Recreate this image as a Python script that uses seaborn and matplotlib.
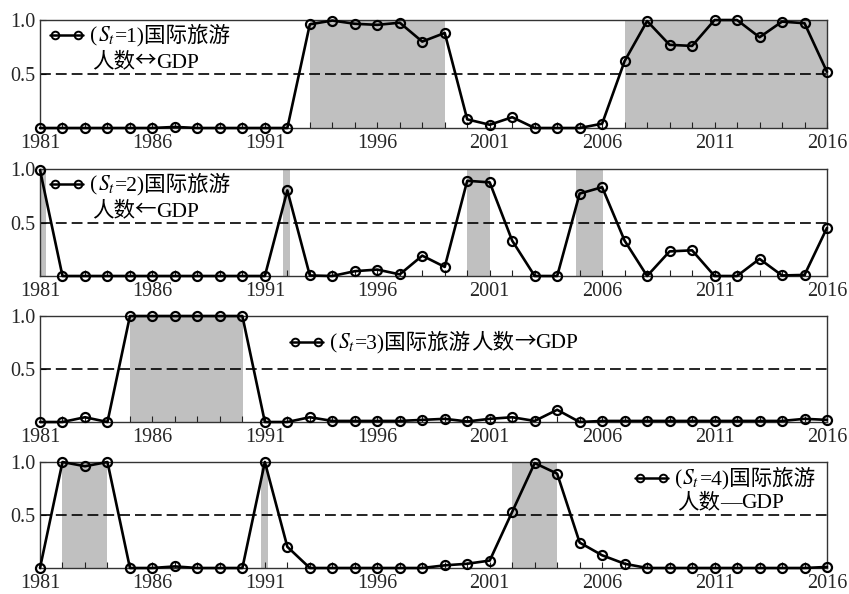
import matplotlib
matplotlib.use("Agg")
import matplotlib.pyplot as plt
import numpy as np
import pandas as pd
import seaborn as sns
from matplotlib.offsetbox import AnchoredOffsetbox, HPacker, VPacker, TextArea, DrawingArea
from matplotlib.lines import Line2D
from matplotlib.ticker import FixedLocator, MultipleLocator

# ---------------- data ----------------
years = list(range(1981, 2017))

prob_s1 = [0, 0, 0, 0, 0, 0, 0.01, 0, 0, 0, 0, 0,
           0.96, 0.995, 0.965, 0.955, 0.975, 0.80, 0.88,
           0.08, 0.03, 0.10, 0, 0, 0, 0.04,
           0.62, 0.99, 0.77, 0.76, 1.0, 1.0, 0.84, 0.985, 0.97, 0.52]

prob_s2 = [0.99, 0, 0, 0, 0, 0, 0, 0, 0, 0, 0,
           0.80, 0.005, 0, 0.045, 0.06, 0.015, 0.19, 0.085,
           0.89, 0.875, 0.33, 0, 0, 0.77, 0.83, 0.33, 0,
           0.23, 0.24, 0, 0, 0.16, 0.005, 0.01, 0.45]

prob_s3 = [0, 0, 0.045, 0, 1.0, 1.0, 1.0, 1.0, 1.0, 1.0,
           0, 0, 0.045, 0.01, 0.01, 0.01, 0.01, 0.02, 0.03, 0.005,
           0.03, 0.045, 0.01, 0.115, 0,
           0.01, 0.01, 0.01, 0.01, 0.01, 0.01, 0.01, 0.01, 0.01, 0.03, 0.02]

prob_s4 = [0, 1.0, 0.96, 1.0, 0, 0, 0.015, 0, 0, 0, 1.0, 0.2,
           0, 0, 0, 0, 0, 0, 0.025, 0.04, 0.07, 0.53, 0.99, 0.89,
           0.24, 0.12, 0.04, 0, 0, 0, 0, 0, 0, 0, 0, 0.01]

shade_s1 = [(1993, 1999), (2007, 2016)]
shade_s2 = [(1981, 1981.25), (1991.8, 1992.1), (2000, 2001), (2004.85, 2006.05)]
shade_s3 = [(1985, 1990.05)]
shade_s4 = [(1982, 1984), (1990.85, 1991.12), (2002, 2004)]

state_ids = ["1", "2", "3", "4"]
label_subject = "国际旅游"
label_count = "人数"
label_arrows = ["↔", "←", "→", "—"]
label_target = "GDP"
legend_two_lines = [True, True, False, True]

xtick_years = [1981, 1986, 1991, 1996, 2001, 2006, 2011, 2016]
ytick_vals = [0.5, 1.0]
ytick_labels = ["0.5", "1.0"]
threshold = 0.5

# ---------------- style ----------------
sns.set_style("ticks")
plt.rcParams["font.family"] = ["Liberation Serif", "Noto Sans CJK SC"]
plt.rcParams["mathtext.fontset"] = "stix"
FONT = ["Liberation Serif", "Noto Sans CJK SC"]
CJK = ["Noto Sans CJK SC", "Liberation Serif"]
arrow_fonts = [CJK, CJK, CJK, FONT]

W, H = 849, 594
fig = plt.figure(figsize=(W / 100, H / 100), dpi=100)

panel_px = [(40, 20, 827, 128), (40, 169, 827, 276), (40, 316, 827, 422), (40, 462, 827, 568)]
series = [prob_s1, prob_s2, prob_s3, prob_s4]
shades = [shade_s1, shade_s2, shade_s3, shade_s4]
legend_pos = [((0.0127, 0.965), "upper left"),
              ((0.0127, 0.965), "upper left"),
              ((0.3177, 0.755), "center left"),
              ((0.756, 0.955), "upper left")]

LEG_FS = 15.5


def make_handle():
    da = DrawingArea(24, 12, 0, 0)
    da.add_artist(Line2D([0, 24], [6, 6], color="k", lw=1.8))
    da.add_artist(Line2D([3.6, 20.4], [6, 6], ls="none", marker="o", markersize=5.5,
                         markerfacecolor="none", markeredgecolor="k", markeredgewidth=1.4))
    return da


for i, (l, t, r, b) in enumerate(panel_px):
    ax = fig.add_axes([l / W, 1 - b / H, (r - l) / W, (b - t) / H])
    for (a, e) in shades[i]:
        ax.axvspan(a, e, color="#c0c0c0", lw=0, zorder=0)
    ax.axhline(threshold, color="k", lw=1.2, ls=(0, (6.5, 3)), zorder=1)
    df = pd.DataFrame({"year": years, "prob": series[i]})
    sns.lineplot(data=df, x="year", y="prob", ax=ax, color="k", linewidth=1.9,
                 marker="o", markersize=6.5, markerfacecolor="none",
                 markeredgecolor="k", markeredgewidth=1.6, clip_on=False, zorder=3)
    ax.set_xlim(1981, 2016)
    ax.set_ylim(0, 1)
    ax.set_xlabel("")
    ax.set_ylabel("")
    ax.xaxis.set_major_locator(FixedLocator(xtick_years))
    ax.xaxis.set_minor_locator(MultipleLocator(1))
    ax.set_xticklabels([str(y) for y in xtick_years])
    ax.yaxis.set_major_locator(FixedLocator(ytick_vals))
    ax.set_yticklabels(ytick_labels)
    ax.tick_params(axis="both", which="both", direction="in", length=4, width=0.8,
                   color="#222222", labelsize=14.5, pad=3)
    ax.tick_params(axis="x", which="major", pad=4)
    for sp in ax.spines.values():
        sp.set_visible(True)
        sp.set_color("#333333")
        sp.set_linewidth(1.0)
    for lab in ax.get_xticklabels() + ax.get_yticklabels():
        lab.set_family(FONT)

    # legend built from offset boxes (mixed fonts + mathtext)
    tp = dict(fontsize=LEG_FS, family=FONT, color="k")
    tpa = dict(fontsize=LEG_FS, family=arrow_fonts[i], color="k")
    head = [TextArea("(", textprops=tp),
            TextArea(r"$S_t$", textprops=dict(fontsize=LEG_FS, color="k")),
            TextArea("=" + state_ids[i] + ")" + label_subject, textprops=tp)]
    tail = [TextArea(label_count, textprops=tp),
            TextArea(label_arrows[i], textprops=tpa),
            TextArea(label_target, textprops=tp)]
    if legend_two_lines[i]:
        line1 = HPacker(children=head, align="baseline", pad=0, sep=0)
        row1 = HPacker(children=[make_handle(), line1], align="center", pad=0, sep=5)
        row2 = HPacker(children=[DrawingArea(30, 1, 0, 0),
                                 HPacker(children=tail, align="baseline", pad=0, sep=0)],
                       align="center", pad=0, sep=0)
        box = VPacker(children=[row1, row2], align="left", pad=0, sep=3)
    else:
        line1 = HPacker(children=head + tail, align="baseline", pad=0, sep=0)
        box = HPacker(children=[make_handle(), line1], align="center", pad=0, sep=5)
    (ax_x, ax_y), loc = legend_pos[i]
    anch = AnchoredOffsetbox(loc=loc, child=box, pad=0, borderpad=0, frameon=False,
                             bbox_to_anchor=(ax_x, ax_y), bbox_transform=ax.transAxes)
    anch.set_zorder(5)
    ax.add_artist(anch)

fig.savefig("out.png", dpi=100)
